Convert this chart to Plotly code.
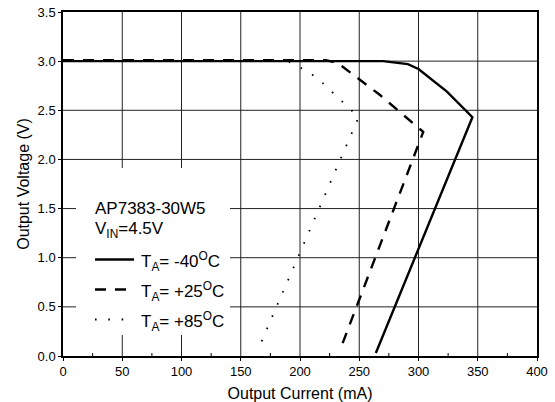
import plotly.graph_objects as go

# ---- data ----
current_m40 = [0, 270, 291, 300, 324, 345.5, 264]
voltage_m40 = [3.00, 3.00, 2.97, 2.92, 2.69, 2.43, 0.03]

current_p25 = [0, 222, 232, 267, 304, 235]
voltage_p25 = [3.01, 3.01, 2.98, 2.66, 2.28, 0.10]

current_p85 = [0, 190, 195, 206.5, 218, 229.5, 249.5, 164]
voltage_p85 = [3.00, 3.00, 2.96, 2.90, 2.79, 2.66, 2.43, 0.05]

x_ticks = [0, 50, 100, 150, 200, 250, 300, 350, 400]
x_minor_ticks = [25, 75, 125, 175, 225, 275, 325, 375]
y_ticks = [0.0, 0.5, 1.0, 1.5, 2.0, 2.5, 3.0, 3.5]
y_tick_labels = ["0.0", "0.5", "1.0", "1.5", "2.0", "2.5", "3.0", "3.5"]

legend_title = "AP7383-30W5"
legend_sub = "V<sub>IN</sub>=4.5V"
series_names = ["T<sub>A</sub>= -40<sup>O</sup>C",
                "T<sub>A</sub>= +25<sup>O</sup>C",
                "T<sub>A</sub>= +85<sup>O</sup>C"]

FONT = "Liberation Sans, Arial, sans-serif"
W, H = 555, 402
# plot area in window pixels
PX0, PX1, PY0, PY1 = 63, 537, 12, 356
L, T = PX0, PY0
R, B = W - PX1, H - PY1
PW, PH = PX1 - PX0, PY1 - PY0
X_RANGE = [x_ticks[0], x_ticks[-1]]
Y_RANGE = [y_ticks[0], y_ticks[-1]]


def px(xp):
    return (xp - PX0) / PW


def py(yp):
    return (PY1 - yp) / PH


styles = [dict(color="black", width=2.4, dash="solid"),
          dict(color="black", width=2.4, dash="11px,9px"),
          dict(color="black", width=1.8, dash="1.6px,11.7px")]

fig = go.Figure()

# grid lines as one trace built from the tick values
gx, gy = [], []
for xv in x_ticks[1:-1]:
    gx += [xv, xv, None]
    gy += [Y_RANGE[0], Y_RANGE[1], None]
for yv in y_ticks[1:-1]:
    gx += [X_RANGE[0], X_RANGE[1], None]
    gy += [yv, yv, None]
fig.add_trace(go.Scatter(x=gx, y=gy, mode="lines",
                         line=dict(color="#222222", width=1),
                         showlegend=False, hoverinfo="skip", cliponaxis=True))

for xs, ys, st, nm in zip([current_m40, current_p25, current_p85],
                          [voltage_m40, voltage_p25, voltage_p85],
                          styles, series_names):
    fig.add_trace(go.Scatter(x=xs, y=ys, mode="lines", line=st, name=nm,
                             showlegend=False, hoverinfo="skip"))

shapes = []
# small inside minor ticks on the bottom axis
for xv in x_minor_ticks:
    shapes.append(dict(type="line", xref="x", yref="paper", x0=xv, x1=xv,
                       y0=0, y1=3 / PH, line=dict(color="black", width=1),
                       layer="below"))

shapes.append(dict(type="rect", xref="paper", yref="paper",
                   x0=px(76), x1=px(230), y0=py(335), y1=py(168),
                   fillcolor="white", line=dict(width=0), layer="above"))
annotations = [
    dict(text=legend_title, xref="paper", yref="paper", x=px(93), y=py(208),
         xanchor="left", yanchor="middle", showarrow=False,
         font=dict(family=FONT, size=17, color="black")),
    dict(text=legend_sub, xref="paper", yref="paper", x=px(93), y=py(230),
         xanchor="left", yanchor="middle", showarrow=False,
         font=dict(family=FONT, size=17, color="black")),
]
rows = [259.5, 289.5, 319.5]
for st, nm, yr in zip(styles, series_names, rows):
    shapes.append(dict(type="line", xref="paper", yref="paper",
                       x0=px(95), x1=px(134), y0=py(yr), y1=py(yr),
                       line=st, layer="above"))
    annotations.append(dict(text=nm, xref="paper", yref="paper", x=px(139),
                            y=py(yr + 2), xanchor="left", yanchor="middle",
                            showarrow=False,
                            font=dict(family=FONT, size=17, color="black")))

axis_common = dict(showline=True, linecolor="black", linewidth=1.5, mirror=True,
                   showgrid=False, zeroline=False,
                   ticks="outside", ticklen=3, tickcolor="black",
                   automargin=False,
                   tickfont=dict(family=FONT, size=13, color="black"))

fig.update_layout(
    template="none",
    width=W, height=H,
    margin=dict(l=L, r=R, t=T, b=B, pad=0),
    paper_bgcolor="white", plot_bgcolor="white",
    showlegend=False,
    shapes=shapes, annotations=annotations,
    xaxis=dict(range=X_RANGE, tickvals=x_ticks,
               title=dict(text="Output Current (mA)", standoff=9,
                          font=dict(family=FONT, size=16, color="black")),
               **axis_common),
    yaxis=dict(range=Y_RANGE, tickvals=y_ticks, ticktext=y_tick_labels,
               title=dict(text="Output Voltage (V)", standoff=4,
                          font=dict(family=FONT, size=16, color="black")),
               **axis_common),
)

fig.write_html("out.html", config={"displayModeBar": False},
               post_script="document.body.style.margin='0px';")
